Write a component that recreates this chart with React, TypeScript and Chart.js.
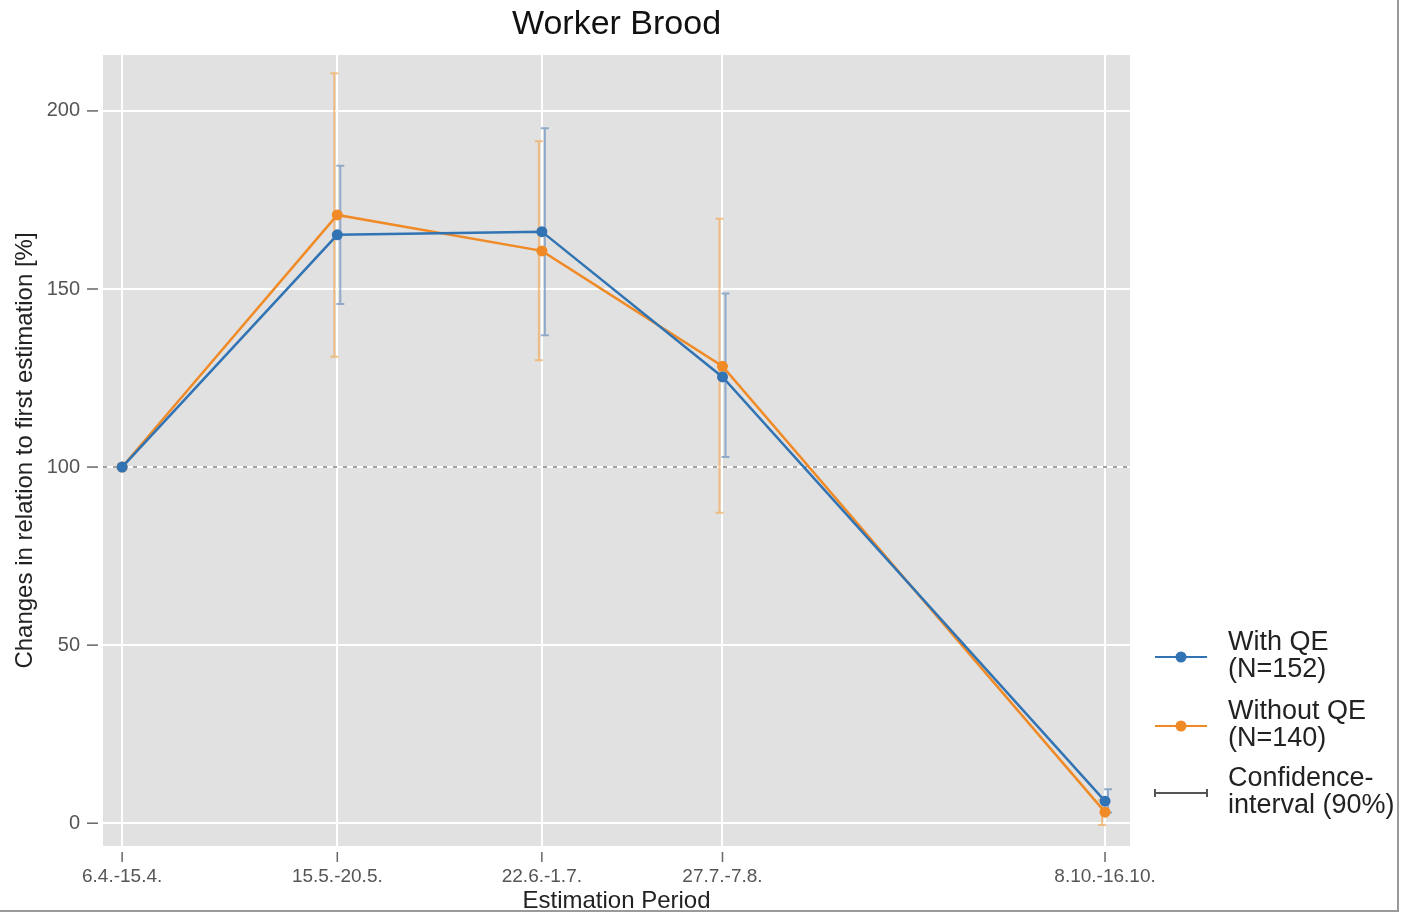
import React, { useEffect, useRef } from "react";
import { Chart, registerables } from "chart.js";

Chart.register(...registerables);

const periods = ["6.4.-15.4.", "15.5.-20.5.", "22.6.-1.7.", "27.7.-7.8.", "8.10.-16.10."];
const periodDay = [100, 140.5, 179, 213, 285];
const yTickValues = [0, 50, 100, 150, 200];

const withQE = [100, 165.2, 166.1, 125.3, 6.2];
const withQELow = [100, 145.8, 137.0, 102.8, 3.0];
const withQEHigh = [100, 184.6, 195.1, 148.7, 9.5];

const withoutQE = [100, 170.8, 160.7, 128.3, 3.1];
const withoutQELow = [100, 131.0, 130.0, 87.2, -0.5];
const withoutQEHigh = [100, 210.6, 191.5, 169.7, 6.5];

const BLUE = "#3274b3";
const ORANGE = "#f08a26";
const FONT = '"Liberation Sans", Arial, sans-serif';

const overlay = {
  id: "overlay",
  beforeDraw(chart: any) {
    const { ctx, chartArea: a } = chart;
    ctx.save();
    ctx.fillStyle = "#ffffff";
    ctx.fillRect(0, 0, chart.width, chart.height);
    ctx.fillStyle = "#e1e1e1";
    ctx.fillRect(a.left, a.top, a.right - a.left, a.bottom - a.top);
    ctx.restore();
  },
  beforeDatasetsDraw(chart: any) {
    const { ctx, chartArea: a, scales } = chart;
    const x = scales.x;
    const y = scales.y;
    ctx.save();
    ctx.strokeStyle = "#a2a2a2";
    ctx.lineWidth = 2;
    ctx.setLineDash([4, 6]);
    ctx.beginPath();
    const y100 = y.getPixelForValue(100);
    ctx.moveTo(a.left, y100);
    ctx.lineTo(a.right, y100);
    ctx.stroke();
    ctx.setLineDash([]);
    const bars = [
      { low: withoutQELow, high: withoutQEHigh, color: "rgba(242,170,90,0.7)", dx: -3 },
      { low: withQELow, high: withQEHigh, color: "rgba(110,145,190,0.7)", dx: 3 },
    ];
    bars.forEach((b) => {
      ctx.strokeStyle = b.color;
      ctx.lineWidth = 2;
      periodDay.forEach((d, i) => {
        if (b.low[i] === b.high[i]) return;
        const px = x.getPixelForValue(d) + b.dx;
        const yl = y.getPixelForValue(b.low[i]);
        const yh = y.getPixelForValue(b.high[i]);
        ctx.beginPath();
        ctx.moveTo(px, yl);
        ctx.lineTo(px, yh);
        ctx.moveTo(px - 4, yl);
        ctx.lineTo(px + 4, yl);
        ctx.moveTo(px - 4, yh);
        ctx.lineTo(px + 4, yh);
        ctx.stroke();
      });
    });
    ctx.restore();
  },
  afterDraw(chart: any) {
    const { ctx, chartArea: a, scales } = chart;
    const x = scales.x;
    const y = scales.y;
    ctx.save();
    ctx.strokeStyle = "#666";
    ctx.lineWidth = 1.5;
    yTickValues.forEach((v) => {
      const py = y.getPixelForValue(v);
      ctx.beginPath();
      ctx.moveTo(87, py);
      ctx.lineTo(98, py);
      ctx.stroke();
    });
    periodDay.forEach((d) => {
      const px = x.getPixelForValue(d);
      ctx.beginPath();
      ctx.moveTo(px, a.bottom + 6);
      ctx.lineTo(px, a.bottom + 16);
      ctx.stroke();
    });
    ctx.fillStyle = "#111";
    ctx.textAlign = "center";
    ctx.textBaseline = "middle";
    ctx.font = `34px ${FONT}`;
    ctx.fillText("Worker Brood", (a.left + a.right) / 2, 25);
    ctx.fillStyle = "#222";
    ctx.font = `24px ${FONT}`;
    ctx.fillText("Estimation Period", (a.left + a.right) / 2, 901);
    ctx.save();
    ctx.translate(25, (a.top + a.bottom) / 2);
    ctx.rotate(-Math.PI / 2);
    ctx.fillText("Changes in relation to first estimation [%]", 0, 0);
    ctx.restore();
    const lx0 = 1155;
    const lx1 = 1207;
    const items = [
      { color: BLUE, lines: ["With QE", "(N=152)"], y: 657, kind: "line" },
      { color: ORANGE, lines: ["Without QE", "(N=140)"], y: 726, kind: "line" },
      { color: "#555", lines: ["Confidence-", "interval (90%)"], y: 793, kind: "ci" },
    ];
    items.forEach((it) => {
      ctx.strokeStyle = it.color;
      ctx.fillStyle = it.color;
      ctx.lineWidth = 2;
      ctx.beginPath();
      ctx.moveTo(lx0, it.y);
      ctx.lineTo(lx1, it.y);
      if (it.kind === "ci") {
        ctx.moveTo(lx0, it.y - 4);
        ctx.lineTo(lx0, it.y + 4);
        ctx.moveTo(lx1, it.y - 4);
        ctx.lineTo(lx1, it.y + 4);
      }
      ctx.stroke();
      if (it.kind === "line") {
        ctx.beginPath();
        ctx.arc((lx0 + lx1) / 2, it.y, 5.5, 0, Math.PI * 2);
        ctx.fill();
      }
      ctx.fillStyle = "#222";
      ctx.textAlign = "left";
      ctx.textBaseline = "middle";
      ctx.font = `27px ${FONT}`;
      ctx.fillText(it.lines[0], 1228, it.y - 14);
      ctx.fillText(it.lines[1], 1228, it.y + 13);
    });
    ctx.strokeStyle = "#9a9a9a";
    ctx.lineWidth = 2;
    ctx.beginPath();
    ctx.moveTo(1398, 0);
    ctx.lineTo(1398, 911);
    ctx.lineTo(0, 911);
    ctx.stroke();
    ctx.restore();
  },
};

export default function App() {
  const ref = useRef<HTMLCanvasElement>(null);
  useEffect(() => {
    if (!ref.current) return;
    const chart = new Chart(ref.current, {
      type: "line",
      data: {
        datasets: [
          {
            label: "With QE (N=152)",
            data: periodDay.map((d, i) => ({ x: d, y: withQE[i] })),
            borderColor: BLUE,
            backgroundColor: BLUE,
            borderWidth: 2.5,
            pointRadius: 5.5,
            pointBorderWidth: 0,
            tension: 0,
          },
          {
            label: "Without QE (N=140)",
            data: periodDay.map((d, i) => ({ x: d, y: withoutQE[i] })),
            borderColor: ORANGE,
            backgroundColor: ORANGE,
            borderWidth: 2.5,
            pointRadius: 5.5,
            pointBorderWidth: 0,
            tension: 0,
          },
        ],
      },
      options: {
        responsive: false,
        animation: false,
        layout: { padding: { top: 55, right: 283, left: 0, bottom: 0 } },
        plugins: {
          legend: { display: false },
          tooltip: { enabled: false },
          title: { display: false },
        },
        scales: {
          x: {
            type: "linear",
            min: 96.4,
            max: 289.7,
            afterBuildTicks: (s: any) => {
              s.ticks = periodDay.map((v) => ({ value: v }));
            },
            afterFit: (s: any) => {
              s.height = 67;
            },
            ticks: {
              autoSkip: false,
              maxRotation: 0,
              padding: 19,
              color: "#555",
              font: { size: 19, family: FONT },
              callback: (_v: any, i: number) => periods[i],
            },
            grid: { color: "#ffffff", lineWidth: 2, drawTicks: false },
            border: { display: false },
          },
          y: {
            type: "linear",
            min: -6.4,
            max: 215.7,
            afterBuildTicks: (s: any) => {
              s.ticks = yTickValues.map((v) => ({ value: v }));
            },
            afterFit: (s: any) => {
              s.width = 103;
            },
            ticks: {
              padding: 23,
              color: "#555",
              font: { size: 20, family: FONT },
            },
            grid: { color: "#ffffff", lineWidth: 2, drawTicks: false },
            border: { display: false },
          },
        },
      },
      plugins: [overlay],
    });
    return () => chart.destroy();
  }, []);
  return (
    <div style={{ position: "fixed", left: 0, top: 0, width: 1413, height: 913 }}>
      <canvas ref={ref} width={1413} height={913} style={{ display: "block" }} />
    </div>
  );
}
